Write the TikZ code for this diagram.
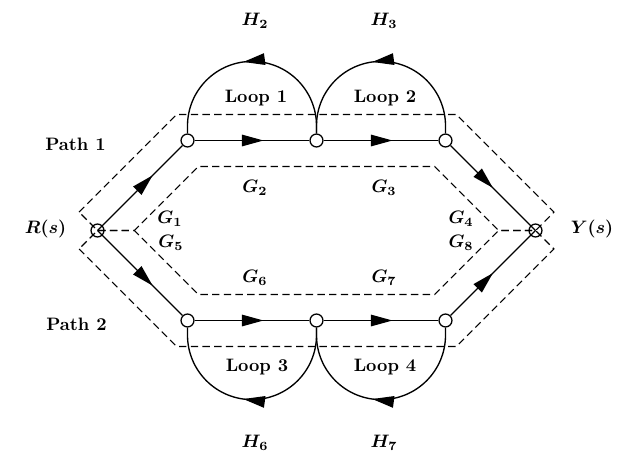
\documentclass[tikz,border=0pt]{standalone}
\usepackage{bm}
\usetikzlibrary{arrows.meta,decorations.markings}
\begin{document}
\begin{tikzpicture}[x=0.5556pt,y=-0.5556pt]
\tikzset{
  sig/.style={line width=0.75pt},
  bnd/.style={dash pattern=on 4.1pt off 2.4pt, line width=0.6pt},
  junc/.style={circle, draw, fill=white, inner sep=0pt, minimum size=7.2pt, line width=0.7pt},
  term/.style={circle, draw, inner sep=0pt, minimum size=7.2pt, line width=0.7pt},
  lbl/.style={font=\bfseries, inner sep=1pt},
  arrowat/.style={postaction={decorate, decoration={markings,
     mark=at position #1 with {\arrow{Triangle[length=12pt,width=6.4pt]}}}}}
}
\useasboundingbox (0,0) rectangle (619,454);

% nodes
\node[term] (R) at (97.5,230.5) {};
\node[term] (Y) at (535.5,230.5) {};
\node[junc] (A1) at (187.5,140.5) {};
\node[junc] (A2) at (316.5,140.5) {};
\node[junc] (A3) at (445.5,140.5) {};
\node[junc] (B1) at (187.5,320.5) {};
\node[junc] (B2) at (316.5,320.5) {};
\node[junc] (B3) at (445.5,320.5) {};

% dashed path regions
\draw[bnd] (79.1,212.1) -- (176.7,114.5) -- (456.3,114.5) -- (553.9,212.1)
  -- (Y.center) -- (498.7,230.5) -- (434.7,166.5) -- (198.3,166.5)
  -- (134.3,230.5) -- (R.center) -- cycle;
\draw[bnd] (79.1,248.9) -- (176.7,346.5) -- (456.3,346.5) -- (553.9,248.9)
  -- (Y.center) -- (498.7,230.5) -- (434.7,294.5) -- (198.3,294.5)
  -- (134.3,230.5) -- (R.center) -- cycle;

% forward branches
\draw[sig, arrowat=0.65] (R.center) -- (A1);
\draw[sig, arrowat=0.6] (A1) -- (A2);
\draw[sig, arrowat=0.6] (A2) -- (A3);
\draw[sig, arrowat=0.5] (A3) -- (Y.center);
\draw[sig, arrowat=0.65] (R.center) -- (B1);
\draw[sig, arrowat=0.6] (B1) -- (B2);
\draw[sig, arrowat=0.6] (B2) -- (B3);
\draw[sig, arrowat=0.5] (B3) -- (Y.center);

% feedback loops
\draw[sig, arrowat=0.54] (A2.north) -- ++(0,-7.5) arc[start angle=0, end angle=-180, radius=64.5] -- (A1.north);
\draw[sig, arrowat=0.54] (A3.north) -- ++(0,-7.5) arc[start angle=0, end angle=-180, radius=64.5] -- (A2.north);
\draw[sig, arrowat=0.54] (B2.south) -- ++(0,7.5) arc[start angle=0, end angle=180, radius=64.5] -- (B1.south);
\draw[sig, arrowat=0.54] (B3.south) -- ++(0,7.5) arc[start angle=0, end angle=180, radius=64.5] -- (B2.south);

% labels
\node[lbl] (lh2) at (255,21) {$\bm{H_2}$};
\node[lbl] (lh3) at (384,21) {$\bm{H_3}$};
\node[lbl] (lh6) at (255,443) {$\bm{H_6}$};
\node[lbl] (lh7) at (384,443) {$\bm{H_7}$};
\node[lbl] (ll1) at (256,98) {Loop 1};
\node[lbl] (ll2) at (385,98) {Loop 2};
\node[lbl] (ll3) at (257,367) {Loop 3};
\node[lbl] (ll4) at (385,367) {Loop 4};
\node[lbl] (lp1) at (75.5,144) {Path 1};
\node[lbl] (lp2) at (76.5,324) {Path 2};
\node[lbl] (lg2) at (255,188) {$\bm{G_2}$};
\node[lbl] (lg3) at (384,188) {$\bm{G_3}$};
\node[lbl] (lg6) at (255,278) {$\bm{G_6}$};
\node[lbl] (lg7) at (384,278) {$\bm{G_7}$};
\node[lbl] (lg1) at (170,219) {$\bm{G_1}$};
\node[lbl] (lg5) at (171,243) {$\bm{G_5}$};
\node[lbl] (lg4) at (461,219) {$\bm{G_4}$};
\node[lbl] (lg8) at (461,243) {$\bm{G_8}$};
\node[lbl] (lr) at (45.5,229) {$\bm{R(s)}$};
\node[lbl] (ly) at (592,229) {$\bm{Y(s)}$};
\end{tikzpicture}
\end{document}
